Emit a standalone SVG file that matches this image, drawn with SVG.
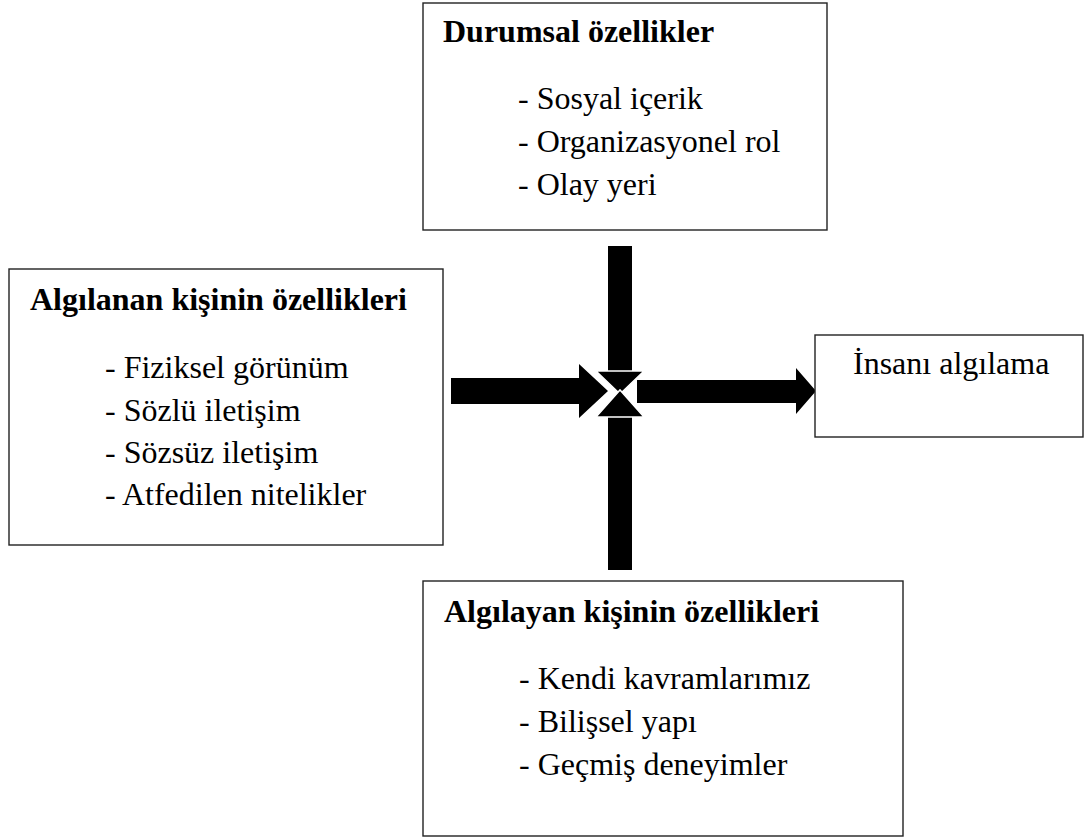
<svg xmlns="http://www.w3.org/2000/svg" width="1086" height="837" viewBox="0 0 1086 837">
<style>
.box{fill:#fff;stroke:#222;stroke-width:1.4}
.t{font-family:"Liberation Serif","Times New Roman",serif;font-size:32px;fill:#000}
.b{font-weight:bold}
.arr{fill:#000}
.head{fill:#000;stroke:#fff;stroke-width:1.5;stroke-linejoin:miter}
</style>
<rect width="1086" height="837" fill="#fff"/>
<g id="connectors">
  <polygon class="arr" points="451,378 579,378 579,364 608,391 579,418 579,404 451,404"/>
  <polygon class="arr" points="637,380 796,380 796,368 816,391 796,414 796,403 637,403"/>
  <rect class="arr" x="608" y="246" width="24" height="126"/>
  <rect class="arr" x="608" y="416" width="24" height="154"/>
  <polygon class="head" points="596,371 644,371 620,394"/>
  <polygon class="head" points="596,417 644,417 620,390"/>
</g>
<g id="node-durumsal">
  <rect class="box" x="423" y="3" width="404" height="227"/>
  <text class="t b" x="443" y="42">Durumsal özellikler</text>
  <text class="t" x="518" y="109">- Sosyal içerik</text>
  <text class="t" x="518" y="152">- Organizasyonel rol</text>
  <text class="t" x="518" y="195">- Olay yeri</text>
</g>
<g id="node-algilanan">
  <rect class="box" x="9" y="269" width="434" height="276"/>
  <text class="t b" x="30" y="310">Algılanan kişinin özellikleri</text>
  <text class="t" x="105" y="378">- Fiziksel görünüm</text>
  <text class="t" x="105" y="421">- Sözlü iletişim</text>
  <text class="t" x="105" y="463">- Sözsüz iletişim</text>
  <text class="t" x="105" y="505">- Atfedilen nitelikler</text>
</g>
<g id="node-insani">
  <rect class="box" x="815" y="335" width="268" height="102"/>
  <text class="t" x="853" y="374">İnsanı algılama</text>
</g>
<g id="node-algilayan">
  <rect class="box" x="423" y="581" width="480" height="255"/>
  <text class="t b" x="444" y="622">Algılayan kişinin özellikleri</text>
  <text class="t" x="519" y="689">- Kendi kavramlarımız</text>
  <text class="t" x="519" y="732">- Bilişsel yapı</text>
  <text class="t" x="519" y="775">- Geçmiş deneyimler</text>
</g>
</svg>
